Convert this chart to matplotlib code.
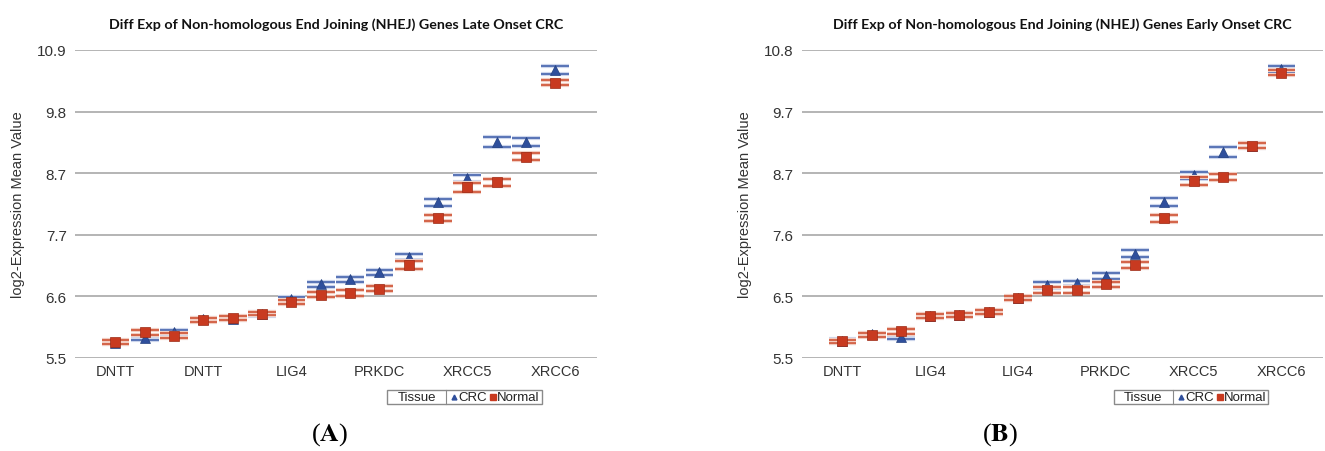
import matplotlib
matplotlib.use("Agg")
import matplotlib.pyplot as plt
import matplotlib.patheffects as pe
from matplotlib.patches import Rectangle
from matplotlib.lines import Line2D
import numpy as np

# 16 probe positions per panel, only every third one carries a visible gene label
n_probes = 16
late_labels = ["DNTT", "DNTT", "LIG4", "PRKDC", "XRCC5", "XRCC6"]
early_labels = ["DNTT", "LIG4", "LIG4", "PRKDC", "XRCC5", "XRCC6"]

# Late onset CRC (panel A)
crc_late = [5.77, 5.85, 5.95, 6.18, 6.19, 6.27, 6.53, 6.79, 6.88, 7.00, 7.27, 8.23, 8.65, 9.29, 9.29, 10.55]
crc_late_err = [0.03, 0.035, 0.035, 0.03, 0.03, 0.03, 0.035, 0.046, 0.046, 0.044, 0.052, 0.058, 0.058, 0.093, 0.067, 0.064]
normal_late = [5.78, 5.95, 5.89, 6.17, 6.20, 6.28, 6.49, 6.61, 6.64, 6.71, 7.13, 7.95, 8.49, 8.58, 9.03, 10.33]
normal_late_err = [0.03, 0.04, 0.04, 0.035, 0.03, 0.03, 0.035, 0.049, 0.046, 0.044, 0.064, 0.052, 0.075, 0.058, 0.06, 0.046]

# Early onset CRC (panel B)
crc_early = [5.76, 5.88, 5.84, 6.20, 6.21, 6.26, 6.50, 6.73, 6.76, 6.89, 7.27, 8.16, 8.63, 9.03, 9.14, 10.46]
crc_early_err = [0.03, 0.03, 0.035, 0.03, 0.03, 0.03, 0.03, 0.045, 0.045, 0.05, 0.057, 0.07, 0.06, 0.09, 0.04, 0.057]
normal_early = [5.756, 5.87, 5.93, 6.20, 6.21, 6.26, 6.50, 6.64, 6.64, 6.74, 7.07, 7.88, 8.53, 8.59, 9.14, 10.40]
normal_early_err = [0.03, 0.035, 0.04, 0.035, 0.035, 0.035, 0.035, 0.05, 0.05, 0.045, 0.05, 0.066, 0.066, 0.05, 0.05, 0.046]

late_ticks = ["5.5", "6.6", "7.7", "8.7", "9.8", "10.9"]
early_ticks = ["5.5", "6.5", "7.6", "8.7", "9.7", "10.8"]

blue = "#2f4f9c"
blue_cap = "#4563ad"
red = "#c83a20"
red_cap = "#cf5234"

plt.rcParams["font.family"] = ["Liberation Sans", "DejaVu Sans"]
plt.rcParams["mathtext.fontset"] = "stix"

fig = plt.figure(figsize=(13.25, 4.52), dpi=100)
W, H = 1325.0, 452.0


def draw_panel(rect, title, crc, crc_err, normal, normal_err, ymin, ymax, tick_text, xlabels):
    ax = fig.add_axes(rect)
    x = np.arange(n_probes)
    ticks = np.linspace(ymin, ymax, 6)
    ax.set_ylim(ymin, ymax)
    ax.set_xlim(-1.38, n_probes - 1 + 1.42)
    ax.set_yticks(ticks)
    ax.set_yticklabels(tick_text)
    ax.grid(axis="y", color="#b4b4b4", linewidth=1.4)
    ax.set_axisbelow(True)
    for s in ax.spines.values():
        s.set_visible(False)
    ax.tick_params(axis="y", length=0, labelsize=11, colors="#333333", pad=6)
    ax.tick_params(axis="x", length=0, labelsize=10.5, colors="#333333", pad=4)
    ax.set_xticks(x[::3])
    ax.set_xticklabels(xlabels)

    halo_b = [pe.withStroke(linewidth=3.0, foreground="#cdd6ec")]
    halo_r = [pe.withStroke(linewidth=3.0, foreground="#f2cdc2")]
    _, caps, bars = ax.errorbar(x, crc, yerr=crc_err, fmt="none", ecolor=blue_cap,
                                capsize=10, capthick=1.2, elinewidth=1.0, zorder=3)
    for c in caps:
        c.set_path_effects(halo_b)
    ax.plot(x, crc, linestyle="none", marker="^", markersize=7.5, color=blue,
            markeredgecolor="#23407f", markeredgewidth=0.5, zorder=4)
    _, caps, bars = ax.errorbar(x, normal, yerr=normal_err, fmt="none", ecolor=red_cap,
                                capsize=10, capthick=1.2, elinewidth=1.0, zorder=5)
    for c in caps:
        c.set_path_effects(halo_r)
    ax.plot(x, normal, linestyle="none", marker="s", markersize=7, color=red,
            markeredgecolor="#9c2b16", markeredgewidth=0.5, zorder=6)

    ax.set_title(title, fontsize=10.3, fontweight="bold", family=["Lato", "DejaVu Sans"],
                 color="#111111", pad=16)
    ax.set_ylabel("log2-Expression Mean Value", fontsize=10.5, color="#333333", labelpad=9)
    return ax


def draw_legend(x0, x1, xdiv):
    y0, y1 = 391, 405
    fig.add_artist(Rectangle((x0 / W, 1 - y1 / H), (x1 - x0) / W, (y1 - y0) / H,
                             transform=fig.transFigure, facecolor="white",
                             edgecolor="#8a8a8a", linewidth=1.0))
    fig.add_artist(Line2D([xdiv / W, xdiv / W], [1 - y1 / H, 1 - y0 / H],
                          transform=fig.transFigure, color="#8a8a8a", linewidth=0.8))
    yc = 1 - 398 / H
    fig.text((x0 + xdiv) / 2 / W, yc, "Tissue", fontsize=9.5, ha="center", va="center", color="#222222")
    fig.add_artist(Line2D([(xdiv + 8) / W], [yc], transform=fig.transFigure, marker="^",
                          markersize=3.5, color=blue, linestyle="none"))
    fig.text((xdiv + 12) / W, yc, "CRC", fontsize=9.5, ha="left", va="center", color="#222222")
    fig.add_artist(Line2D([(xdiv + 47) / W], [yc], transform=fig.transFigure, marker="s",
                          markersize=3.8, color=red, linestyle="none"))
    fig.text((xdiv + 51) / W, yc, "Normal", fontsize=9.5, ha="left", va="center", color="#222222")


bottom = 1 - 359 / H
height = 308 / H
draw_panel([75 / W, bottom, 522 / W, height],
           "Diff Exp of Non-homologous End Joining (NHEJ) Genes Late Onset CRC",
           crc_late, crc_late_err, normal_late, normal_late_err, 5.5, 10.9, late_ticks, late_labels)
draw_panel([802 / W, bottom, 521 / W, height],
           "Diff Exp of Non-homologous End Joining (NHEJ) Genes Early Onset CRC",
           crc_early, crc_early_err, normal_early, normal_early_err, 5.47, 10.79, early_ticks, early_labels)

draw_legend(387, 542, 446)
draw_legend(1114, 1268, 1173)

fig.text(330 / W, 1 - 435 / H, r"($\mathbf{A}$)", fontsize=19, ha="center", va="center",
         family=["Liberation Serif", "DejaVu Serif"])
fig.text(1000 / W, 1 - 435 / H, r"($\mathbf{B}$)", fontsize=19, ha="center", va="center",
         family=["Liberation Serif", "DejaVu Serif"])

fig.savefig("out.png", dpi=100)
